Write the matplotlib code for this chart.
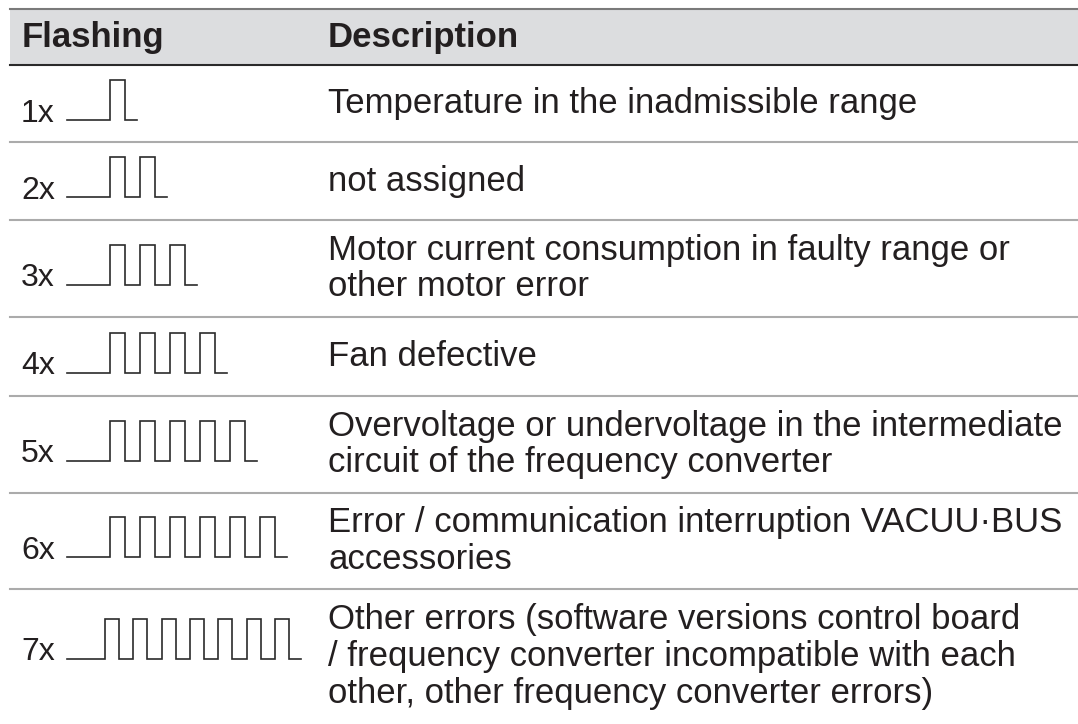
import matplotlib.pyplot as plt

plt.rcParams['font.family'] = ['Liberation Sans', 'DejaVu Sans']

header = ["Flashing", "Description"]
counts = [1, 2, 3, 4, 5, 6, 7]
labels = ["1x", "2x", "3x", "4x", "5x", "6x", "7x"]
descriptions = [
    "Temperature in the inadmissible range",
    "not assigned",
    "Motor current consumption in faulty range or\nother motor error",
    "Fan defective",
    "Overvoltage or undervoltage in the intermediate\ncircuit of the frequency converter",
    "Error / communication interruption VACUU\u00b7BUS\naccessories",
    "Other errors (software versions control board\n/ frequency converter incompatible with each\nother, other frequency converter errors)",
]

# layout in pixels (figure is 1078 x 724)
W, H = 1078, 724
row_edges = [65, 142, 220, 317, 396, 493, 589, 724]
header_top = 9
ink = '#231f20'
fs = 25

fig = plt.figure(figsize=(W / 100, H / 100), dpi=100)
ax = fig.add_axes([0, 0, 1, 1])
ax.set_xlim(0, W)
ax.set_ylim(H, 0)
ax.axis('off')

# header band
ax.fill_between([10, W], header_top, row_edges[0], color='#dcdddf', lw=0)
ax.plot([10, W], [header_top, header_top], color='#7a7a7a', lw=1.5)
ax.plot([10, W], [row_edges[0], row_edges[0]], color='#2a2a2a', lw=1.5)
hy = (header_top + row_edges[0]) / 2
ax.text(22, hy + 1, header[0], fontsize=fs, fontweight='bold', color=ink, va='center')
ax.text(328, hy + 1, header[1], fontsize=fs, fontweight='bold', color=ink, va='center')

for i, (n, lab, desc) in enumerate(zip(counts, labels, descriptions)):
    top, bot = row_edges[i], row_edges[i + 1]
    yc = (top + bot) / 2
    nlines = desc.count('\n') + 1
    if i > 0:
        ax.plot([10, W], [top, top], color='#ababab', lw=1.5)

    # pulse train
    pc = yc - 4 if nlines < 3 else yc - 18
    y_hi, y_lo = pc - 20, pc + 20
    x0, x_rise = 67, 110
    period, width = 30, 15
    if n == 7:
        x_rise, period, width = 105, 28.3, 14
    xs, ys = [x0, x_rise], [y_lo, y_lo]
    for k in range(n):
        r = x_rise + k * period
        xs += [r, r + width, r + width]
        ys += [y_hi, y_hi, y_lo]
        if k < n - 1:
            xs.append(r + period)
            ys.append(y_lo)
    xs.append(xs[-1] + 12)
    ys.append(y_lo)
    ax.plot(xs, ys, color='#2b2b2b', lw=1.2, solid_joinstyle='miter')

    ax.text(21, y_lo + 2, lab, fontsize=23, color=ink, va='baseline')
    ax.text(328, yc, desc, fontsize=fs, color=ink, va='center', linespacing=1.15)

fig.savefig('out.png', dpi=100)
